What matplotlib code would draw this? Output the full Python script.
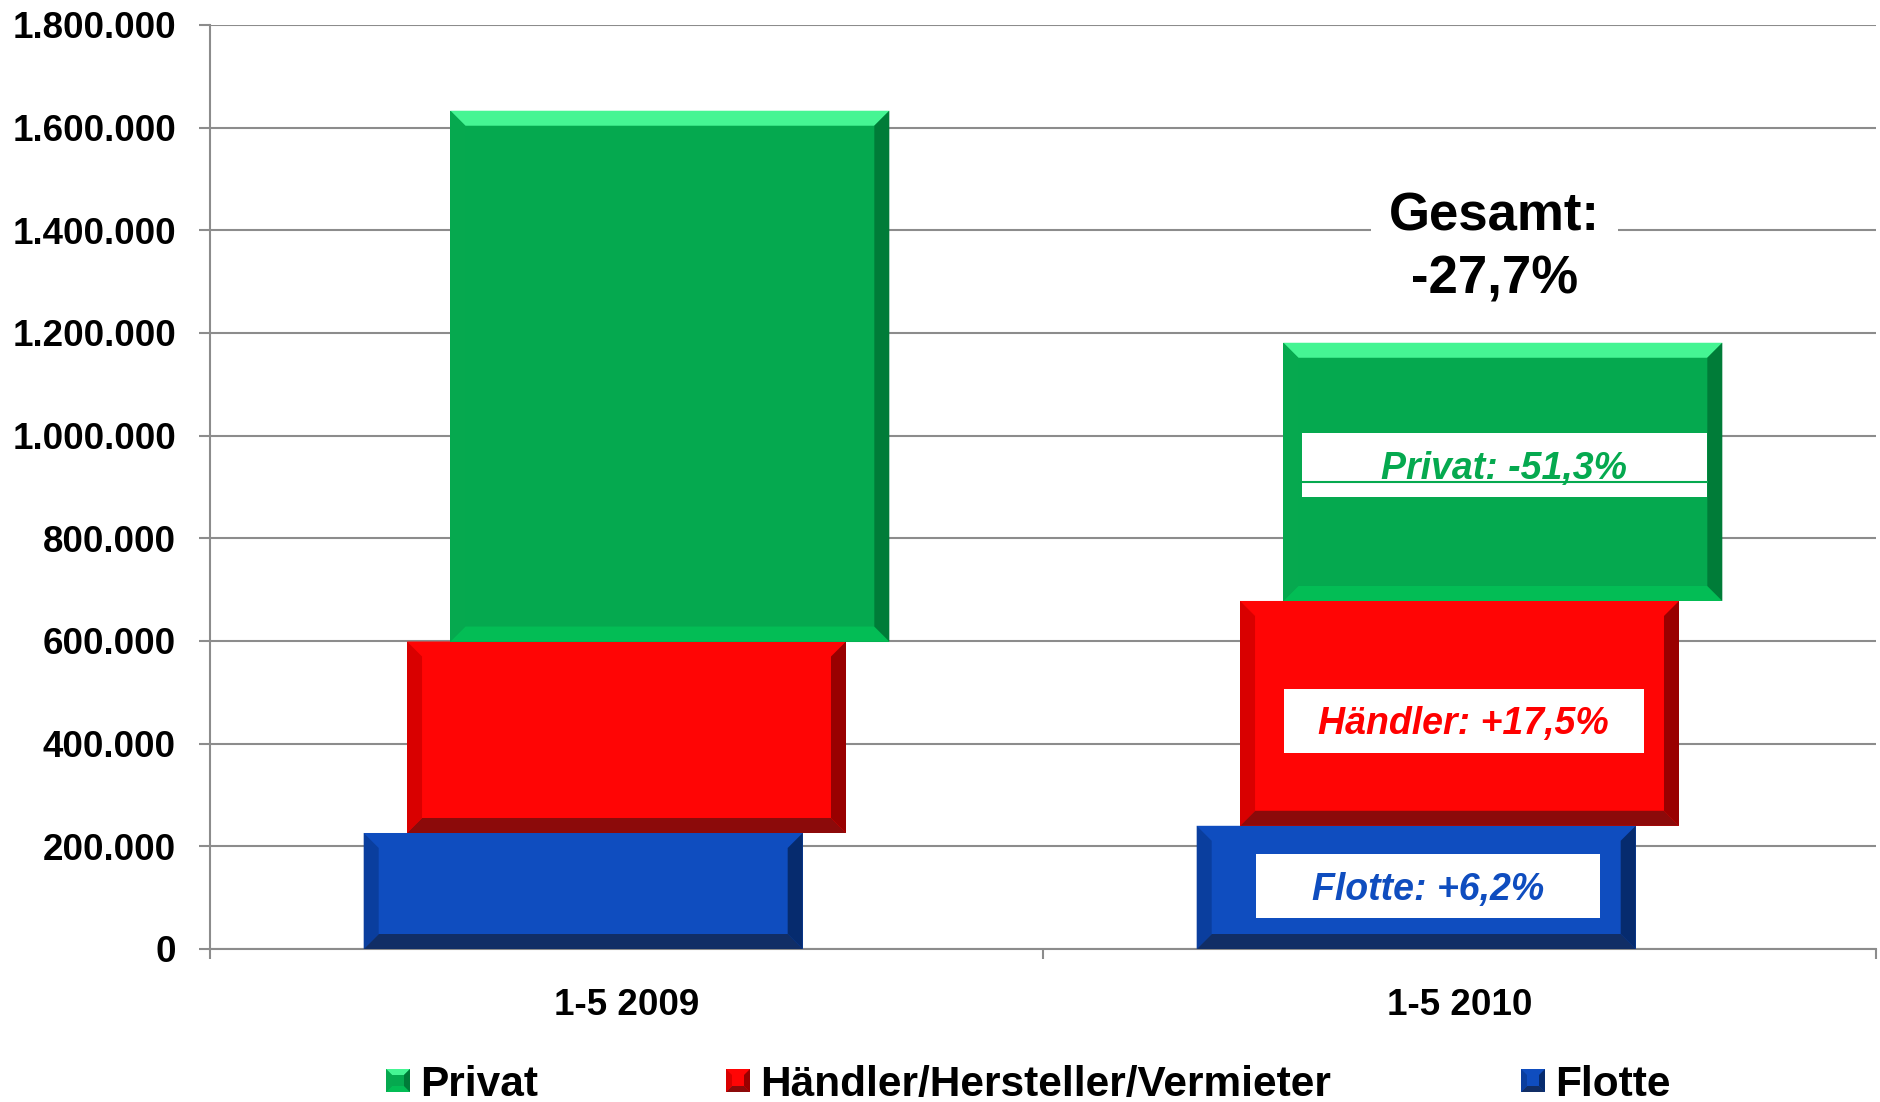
import matplotlib
matplotlib.use('Agg')
import numpy as np
from matplotlib import pyplot as plt
from matplotlib.patches import Polygon, Rectangle
from matplotlib.transforms import IdentityTransform

plt.rcParams['font.family'] = ['Liberation Sans', 'DejaVu Sans']

# data
categories = ['1-5 2009', '1-5 2010']
flotte     = [226000, 240000]
haendler   = [373000, 438000]
privat     = [1034000, 503000]
seriesNames = ['Privat', 'Händler/Hersteller/Vermieter', 'Flotte']
changeLabels = ['Privat: -51,3%', 'Händler: +17,5%', 'Flotte: +6,2%']
totalLabel = 'Gesamt:\n-27,7%'
yTicks = np.arange(0, 1800001, 200000)

# colours: main, top, bottom, left, right
greenCols = ['#05A94F', '#45F593', '#03BD55', '#06A94F', '#007C38']
redCols   = ['#FF0505', '#FF0505', '#8C0A0A', '#D90000', '#990000']
blueCols  = ['#0F4DBF', '#0F4DBF', '#112E66', '#0A3E9E', '#062B6E']

W, H = 1881, 1102
fig = plt.figure(figsize=(W / 100, H / 100), dpi=100)
ax = fig.add_axes([210 / W, 153 / H, 1666 / W, 924 / H])
ax.set_xlim(-0.5, 1.5)
ax.set_ylim(0, 1800000)


def bevel(X0, Y0, X1, Y1, cols, bw, z, artistHost):
    quads = [
        [(X0, Y1), (X1, Y1), (X1 - bw, Y1 - bw), (X0 + bw, Y1 - bw)],
        [(X0, Y0), (X1, Y0), (X1 - bw, Y0 + bw), (X0 + bw, Y0 + bw)],
        [(X0, Y0), (X0, Y1), (X0 + bw, Y1 - bw), (X0 + bw, Y0 + bw)],
        [(X1, Y0), (X1, Y1), (X1 - bw, Y1 - bw), (X1 - bw, Y0 + bw)],
    ]
    for q, c in zip(quads, cols[1:]):
        p = Polygon(q, closed=True, facecolor=c, edgecolor='none',
                    transform=IdentityTransform(), zorder=z)
        artistHost(p)


x = np.arange(len(categories))
barW = 0.527
shift = 0.052
flotte = np.array(flotte)
haendler = np.array(haendler)
privat = np.array(privat)

layers = [
    (flotte, 0, -shift, blueCols, 3),
    (haendler, flotte, 0.0, redCols, 4),
    (privat, flotte + haendler, shift, greenCols, 5),
]
for vals, bottom, off, cols, z in layers:
    bars = ax.bar(x + off, vals, barW, bottom=bottom, color=cols[0],
                  edgecolor='none', zorder=z)
    for r in bars:
        (X0, Y0), (X1, Y1) = ax.transData.transform(
            [(r.get_x(), r.get_y()),
             (r.get_x() + r.get_width(), r.get_y() + r.get_height())])
        bevel(X0, Y0, X1, Y1, cols, 15, z + 0.1, ax.add_patch)

# axes styling
gridCol = '#8C8C8C'
ax.set_yticks(yTicks)
ax.set_yticklabels(['{:,}'.format(v).replace(',', '.') for v in yTicks],
                   fontsize=26.5, fontweight='bold')
ax.yaxis.grid(True, color=gridCol, linewidth=1.5, zorder=0)
ax.set_axisbelow(True)
ax.tick_params(axis='y', length=8, width=1.5, color=gridCol, pad=16.5)

ax.set_xticks([-0.5, 0.5, 1.5])
ax.set_xticklabels([])
ax.set_xticks(x, minor=True)
ax.set_xticklabels(categories, minor=True, fontsize=26.5, fontweight='bold')
ax.tick_params(axis='x', which='major', length=7, width=1.5, color=gridCol)
ax.tick_params(axis='x', which='minor', length=0, pad=28)

for s in ['top', 'right']:
    ax.spines[s].set_visible(False)
for s in ['left', 'bottom']:
    ax.spines[s].set_color(gridCol)
    ax.spines[s].set_linewidth(1.5)

# total change
ax.text(1.042, 1366000, totalLabel, ha='center', va='center', fontsize=38,
        fontweight='bold', linespacing=1.32, zorder=6,
        bbox=dict(boxstyle='square,pad=0.35', facecolor='white', edgecolor='none'))

# change labels in white boxes
boxH = 125000
labelSpecs = [
    (changeLabels[0], 1.054, 943000, 935000, 0.486, greenCols[0]),
    (changeLabels[1], 1.005, 444000, 439000, 0.432, '#FF0000'),
    (changeLabels[2], 0.962, 123000, 114000, 0.413, blueCols[0]),
]
for txt, cx, cy, ty, bwid, col in labelSpecs:
    ax.add_patch(Rectangle((cx - bwid / 2, cy - boxH / 2), bwid, boxH,
                           facecolor='white', edgecolor='none', zorder=7))
    ax.text(cx, ty, txt, ha='center', va='center', color=col, fontsize=27,
            fontweight='bold', fontstyle='italic', zorder=8)
# thin green line through the Privat label box
ax.plot([1.054 - 0.243, 1.054 + 0.243], [910000, 910000], color=greenCols[0],
        linewidth=1.5, zorder=7.5)

# legend drawn by hand
legendSpecs = [
    (seriesNames[0], 386, greenCols),
    (seriesNames[1], 726, redCols),
    (seriesNames[2], 1521, blueCols),
]
for name, px, cols in legendSpecs:
    y0 = H - 1092
    fig.add_artist(Rectangle((px, y0), 24, 23, facecolor=cols[0], edgecolor='none',
                             transform=IdentityTransform()))
    bevel(px, y0, px + 24, y0 + 23, cols, 6, 2, fig.add_artist)
    fig.text((px + 34) / W, (H - 1096) / H, name, ha='left', va='baseline',
             fontsize=30.5, fontweight='bold')

fig.savefig('out.png', dpi=100)
